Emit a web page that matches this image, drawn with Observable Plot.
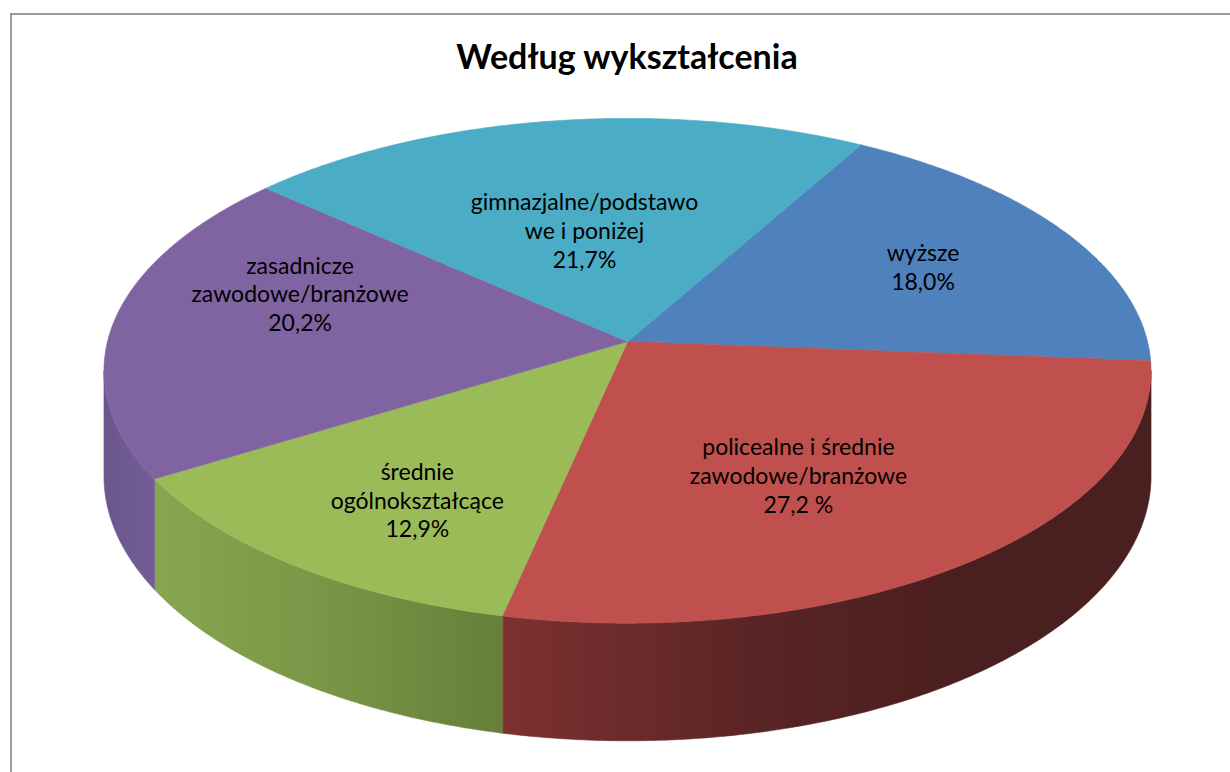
<!DOCTYPE html>
<html>
<head>
<meta charset="utf-8">
<script src="https://cdn.jsdelivr.net/npm/d3@7"></script>
<script src="https://cdn.jsdelivr.net/npm/@observablehq/plot@0.6"></script>
<style>
  html, body { margin: 0; padding: 0; background: #fff; width: 1230px; height: 772px; overflow: hidden; }
  #border { position: absolute; left: 10px; top: 13px; width: 1400px; height: 1000px; border: 2px solid #9c9c9c; box-sizing: border-box; }
  #title { position: absolute; left: 0; top: 36px; width: 1254px; text-align: center; font-family: Lato, "Open Sans", sans-serif; font-weight: bold; font-size: 34px; line-height: 40px; color: #000; }
  #chart { position: absolute; left: 0; top: 100px; }
</style>
</head>
<body>
<div id="border"></div>
<div id="title">Według wykształcenia</div>
<div id="chart"></div>
<script>
// ---- data (clockwise, starting from the slice right of the top) ----
const categories = [
  "wyższe",
  "policealne i średnie\nzawodowe/branżowe",
  "średnie\nogólnokształcące",
  "zasadnicze\nzawodowe/branżowe",
  "gimnazjalne/podstawo\nwe i poniżej"
];
const shares = [18.0, 27.2, 12.9, 20.2, 21.7];
const shareLabels = ["18,0%", "27,2 %", "12,9%", "20,2%", "21,7%"];

// ---- style ----
const topColors = ["#4F81BD", "#C0504D", "#9BBB59", "#8064A2", "#4BACC6"];
const wallStops = [
  [[0, "#3f6a9c"], [1, "#2f5280"]],
  [[0, "#7d3131"], [0.18, "#6c2b2b"], [0.45, "#562323"], [0.7, "#4b1f1f"], [1, "#4a1f1f"]],
  [[0, "#88a651"], [0.5, "#7a9546"], [1, "#667f3a"]],
  [[0, "#6b568b"], [1, "#735d97"]],
  [[0, "#3a8ea5"], [1, "#2e7489"]]
];
const labelTweak = [[0, 0.667], [5, 0.59], [-3, 0.70], [12, 0.674], [-1, 0.48]];

// ---- 3D perspective geometry ----
const startAngle = 29.6;
const cx = 627, cy = 341, A = 520, B = 249, e = 0.116, depth = 104;
function proj(theta, r = 1, h = 0) {
  const t = theta * Math.PI / 180;
  const X = r * Math.sin(t), Y = -r * Math.cos(t);
  const w = 1 - e * Y;
  return { x: cx + A * X / w, y: cy + (B * Y + h * depth) / w };
}
const silL = 90 + Math.asin(e) * 180 / Math.PI;   // right silhouette
const silR = 270 - Math.asin(e) * 180 / Math.PI;  // left silhouette

const total = d3.sum(shares);
let cum = 0;
const slices = shares.map((v, i) => {
  const a0 = startAngle + 360 * cum / total;
  cum += v;
  const a1 = startAngle + 360 * cum / total;
  return { i, a0, a1, mid: (a0 + a1) / 2 };
});

const step = 0.5;
function arcAngles(a0, a1) {
  const n = Math.max(2, Math.ceil((a1 - a0) / step));
  return d3.range(n + 1).map(k => a0 + (a1 - a0) * k / n);
}

// top faces
const topPts = [];
slices.forEach(s => {
  const c = proj(0, 0);
  topPts.push({ key: s.i, x: c.x, y: c.y, fill: topColors[s.i] });
  arcAngles(s.a0, s.a1).forEach(a => {
    const p = proj(a);
    topPts.push({ key: s.i, x: p.x, y: p.y, fill: topColors[s.i] });
  });
});

// front walls
const wallPts = [];
slices.forEach(s => {
  const a0 = Math.max(s.a0, silL), a1 = Math.min(s.a1, silR);
  if (a1 <= a0) return;
  const angs = arcAngles(a0, a1);
  const f = `url(#wall${s.i})`;
  angs.forEach(a => { const p = proj(a, 1, 0); wallPts.push({ key: s.i, x: p.x, y: p.y, fill: f }); });
  angs.slice().reverse().forEach(a => { const p = proj(a, 1, 1); wallPts.push({ key: s.i, x: p.x, y: p.y, fill: f }); });
  s.wx0 = proj(a1).x; s.wx1 = proj(a0).x;
  if (s.wx0 > s.wx1) [s.wx0, s.wx1] = [s.wx1, s.wx0];
});

// labels
const labels = slices.map(s => {
  const p = proj(s.mid + labelTweak[s.i][0], labelTweak[s.i][1]);
  return { x: p.x, y: p.y, text: categories[s.i] + "\n" + shareLabels[s.i] };
});

// gradient defs as a render mark
function defsMark(index, scales) {
  const defs = d3.create("svg:defs");
  slices.forEach(s => {
    if (s.wx0 === undefined) return;
    const g = defs.append("linearGradient")
      .attr("id", `wall${s.i}`)
      .attr("gradientUnits", "userSpaceOnUse")
      .attr("x1", scales.x(s.wx0)).attr("x2", scales.x(s.wx1))
      .attr("y1", 0).attr("y2", 0);
    wallStops[s.i].forEach(([o, c]) => g.append("stop").attr("offset", o).attr("stop-color", c));
  });
  return defs.node();
}

const plot = Plot.plot({
  width: 1230,
  height: 672,
  margin: 0,
  x: { domain: [0, 1230], range: [0, 1230], axis: null },
  y: { domain: [100, 772], range: [0, 672], axis: null },
  color: { type: "identity" },
  style: { background: "transparent", overflow: "visible" },
  marks: [
    defsMark,
    Plot.line(wallPts, { x: "x", y: "y", z: "key", fill: "fill", stroke: "fill", strokeWidth: 0.6, curve: "linear-closed" }),
    Plot.line(topPts, { x: "x", y: "y", z: "key", fill: "fill", stroke: "fill", strokeWidth: 0.6, curve: "linear-closed" }),
    Plot.text(labels, {
      x: "x", y: "y", text: "text",
      fontFamily: "Lato, 'Open Sans', sans-serif",
      fontSize: 23, lineHeight: 1.26, fill: "#000",
      textAnchor: "middle", lineAnchor: "middle"
    })
  ]
});
document.getElementById("chart").appendChild(plot);
</script>
</body>
</html>
